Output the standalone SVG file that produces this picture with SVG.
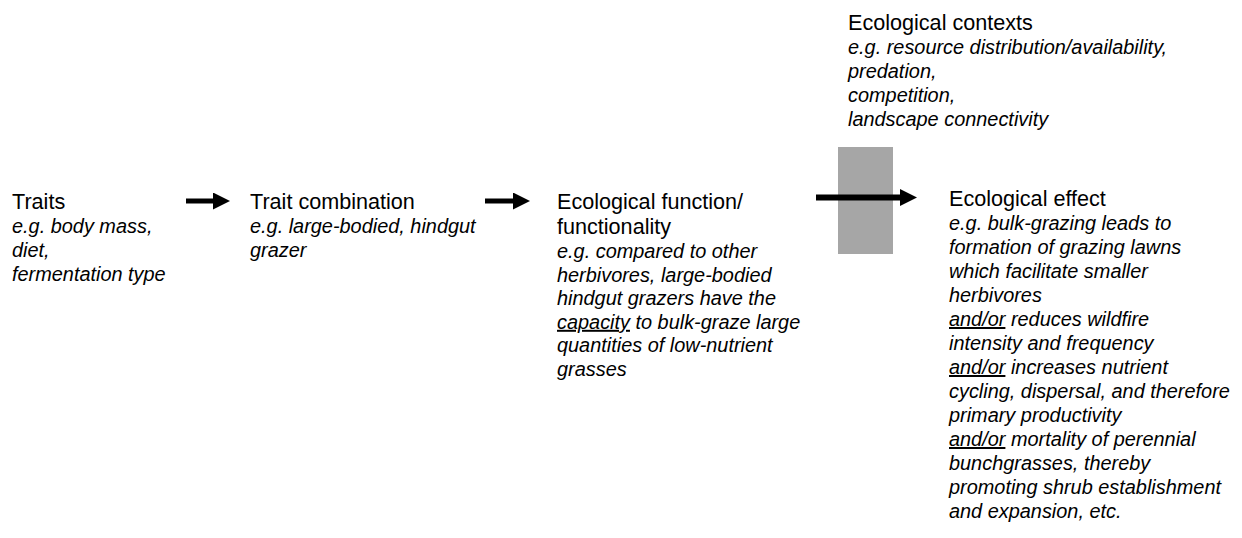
<svg xmlns="http://www.w3.org/2000/svg" width="1242" height="538" viewBox="0 0 1242 538">
<style>
.h{font-family:"Liberation Sans",Arial,sans-serif;font-size:21.6px;fill:#000}
.b{font-family:"Liberation Sans",Arial,sans-serif;font-size:19.9px;font-style:italic;fill:#000}
.u{text-decoration:underline}
.conn{stroke:#000;fill:none}
</style>
<defs>
<marker id="ah" markerUnits="userSpaceOnUse" markerWidth="18" markerHeight="18" refX="0" refY="8.5" orient="auto">
<path d="M0,0 L17,8.5 L0,17 Z" fill="#000"/>
</marker>
</defs>
<rect id="context-bar" x="838" y="147" width="55" height="107" fill="#a6a6a6"/>
<g id="connectors">
<line class="conn" x1="186" y1="201" x2="213" y2="201" stroke-width="5" marker-end="url(#ah)"/>
<line class="conn" x1="485" y1="201" x2="513" y2="201" stroke-width="5" marker-end="url(#ah)"/>
<line class="conn" x1="816" y1="197.5" x2="900" y2="197.5" stroke-width="6" marker-end="url(#ah)"/>
</g>
<g id="traits">
<text class="h" x="12" y="208.5">Traits</text>
<text class="b" x="12" y="232.5">e.g. body mass,</text>
<text class="b" x="12" y="256.5">diet,</text>
<text class="b" x="12" y="280.5">fermentation type</text>
</g>
<g id="trait-combination">
<text class="h" x="250" y="208.5">Trait combination</text>
<text class="b" x="250" y="232.5">e.g. large-bodied, hindgut</text>
<text class="b" x="250" y="256.5">grazer</text>
</g>
<g id="ecological-function">
<text class="h" x="557" y="209">Ecological function/</text>
<text class="h" x="557" y="234">functionality</text>
<text class="b" x="557" y="258">e.g. compared to other</text>
<text class="b" x="557" y="281.6">herbivores, large-bodied</text>
<text class="b" x="557" y="305.2">hindgut grazers have the</text>
<text class="b" x="557" y="328.8"><tspan class="u">capacity</tspan> to bulk-graze large</text>
<text class="b" x="557" y="352.4">quantities of low-nutrient</text>
<text class="b" x="557" y="376">grasses</text>
</g>
<g id="ecological-contexts">
<text class="h" x="848" y="29.5">Ecological contexts</text>
<text class="b" x="848" y="53.5">e.g. resource distribution/availability,</text>
<text class="b" x="848" y="77.5">predation,</text>
<text class="b" x="848" y="101.5">competition,</text>
<text class="b" x="848" y="125.5">landscape connectivity</text>
</g>
<g id="ecological-effect">
<text class="h" x="949" y="206">Ecological effect</text>
<text class="b" x="949" y="230">e.g. bulk-grazing leads to</text>
<text class="b" x="949" y="254">formation of grazing lawns</text>
<text class="b" x="949" y="278">which facilitate smaller</text>
<text class="b" x="949" y="302">herbivores</text>
<text class="b" x="949" y="326"><tspan class="u">and/or</tspan> reduces wildfire</text>
<text class="b" x="949" y="350">intensity and frequency</text>
<text class="b" x="949" y="374"><tspan class="u">and/or</tspan> increases nutrient</text>
<text class="b" x="949" y="398">cycling, dispersal, and therefore</text>
<text class="b" x="949" y="422">primary productivity</text>
<text class="b" x="949" y="446"><tspan class="u">and/or</tspan> mortality of perennial</text>
<text class="b" x="949" y="470">bunchgrasses, thereby</text>
<text class="b" x="949" y="494">promoting shrub establishment</text>
<text class="b" x="949" y="518">and expansion, etc.</text>
</g>
</svg>
